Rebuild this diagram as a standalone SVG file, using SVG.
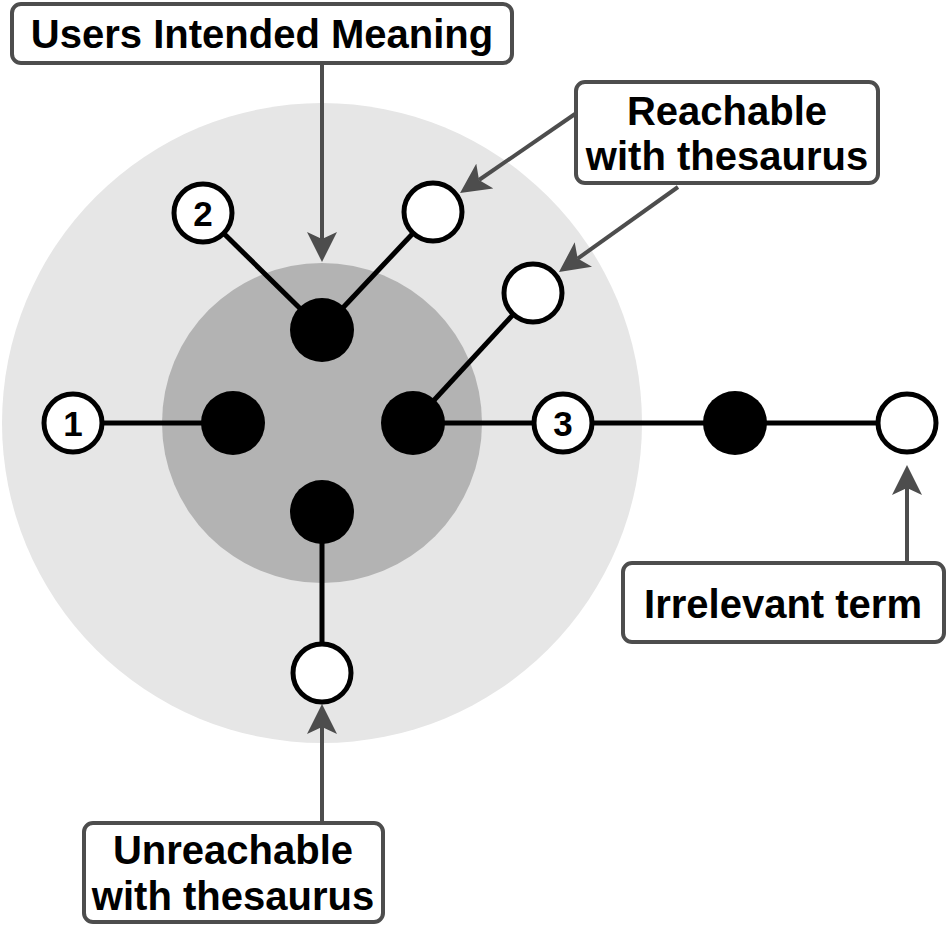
<svg xmlns="http://www.w3.org/2000/svg" width="946" height="926" viewBox="0 0 946 926">
<style>
.edge{stroke:#000;stroke-width:5;fill:none}
.arr{stroke:#4D4D4D;stroke-width:4;fill:none}
.blk{fill:#000}
.wht{fill:#fff;stroke:#000;stroke-width:5}
.box{fill:#fff;stroke:#4D4D4D;stroke-width:4}
.lbl{font-family:"Liberation Sans",Arial,sans-serif;font-weight:bold;font-size:40px;fill:#000;text-anchor:middle}
.num{font-family:"Liberation Sans",Arial,sans-serif;font-weight:bold;font-size:35px;fill:#000;text-anchor:middle}
</style>
<defs>
<marker id="ah" markerUnits="userSpaceOnUse" markerWidth="30" markerHeight="30" refX="7" refY="15" orient="auto" viewBox="0 0 30 30">
<path d="M0,0 L30,15 L0,30 L7,15 Z" fill="#4D4D4D"/>
</marker>
</defs>
<g id="regions">
<circle cx="322" cy="423" r="320" fill="#E6E6E6"/>
<circle cx="322" cy="423" r="160" fill="#B3B3B3"/>
</g>
<g id="connectors">
<line class="edge" x1="73" y1="423" x2="233" y2="423"/>
<line class="edge" x1="203" y1="213" x2="322" y2="330"/>
<line class="edge" x1="433" y1="212" x2="322" y2="330"/>
<line class="edge" x1="533" y1="293" x2="413" y2="423"/>
<line class="edge" x1="413" y1="423" x2="907" y2="423"/>
<line class="edge" x1="322" y1="512" x2="322" y2="673"/>
<line class="arr" x1="322" y1="63" x2="322" y2="239" marker-end="url(#ah)"/>
<line class="arr" x1="322" y1="823" x2="322" y2="727" marker-end="url(#ah)"/>
<line class="arr" x1="907" y1="562" x2="907" y2="488" marker-end="url(#ah)"/>
<line class="arr" x1="575" y1="114" x2="479" y2="180" marker-end="url(#ah)"/>
<line class="arr" x1="678" y1="187" x2="577.7" y2="258.6" marker-end="url(#ah)"/>
</g>
<g id="n-top"><circle class="blk" cx="322" cy="330" r="32"/></g>
<g id="n-left"><circle class="blk" cx="233" cy="423" r="32"/></g>
<g id="n-right"><circle class="blk" cx="413" cy="423" r="32"/></g>
<g id="n-bottom"><circle class="blk" cx="322" cy="512" r="32"/></g>
<g id="n-far"><circle class="blk" cx="735" cy="423" r="32"/></g>
<g id="n1"><circle class="wht" cx="73" cy="423" r="29"/><text class="num" x="73" y="436">1</text></g>
<g id="n2"><circle class="wht" cx="203" cy="213" r="29"/><text class="num" x="203" y="226">2</text></g>
<g id="n3"><circle class="wht" cx="563" cy="423" r="29"/><text class="num" x="563" y="436">3</text></g>
<g id="w-tr"><circle class="wht" cx="433" cy="212" r="29"/></g>
<g id="w-r"><circle class="wht" cx="533" cy="293" r="29"/></g>
<g id="w-far"><circle class="wht" cx="907" cy="423" r="29"/></g>
<g id="w-bot"><circle class="wht" cx="322" cy="673" r="29"/></g>
<g id="lbl-users"><rect class="box" x="12" y="4" width="500" height="59" rx="9"/><text class="lbl" x="262" y="48">Users Intended Meaning</text></g>
<g id="lbl-reach"><rect class="box" x="576" y="82" width="302" height="101" rx="9"/><text class="lbl" x="727" y="125">Reachable</text><text class="lbl" x="727" y="170">with thesaurus</text></g>
<g id="lbl-irr"><rect class="box" x="623" y="563" width="321" height="79" rx="9"/><text class="lbl" x="783" y="618">Irrelevant term</text></g>
<g id="lbl-unreach"><rect class="box" x="84" y="823" width="299" height="99" rx="9"/><text class="lbl" x="233" y="864">Unreachable</text><text class="lbl" x="233" y="910">with thesaurus</text></g>
</svg>
